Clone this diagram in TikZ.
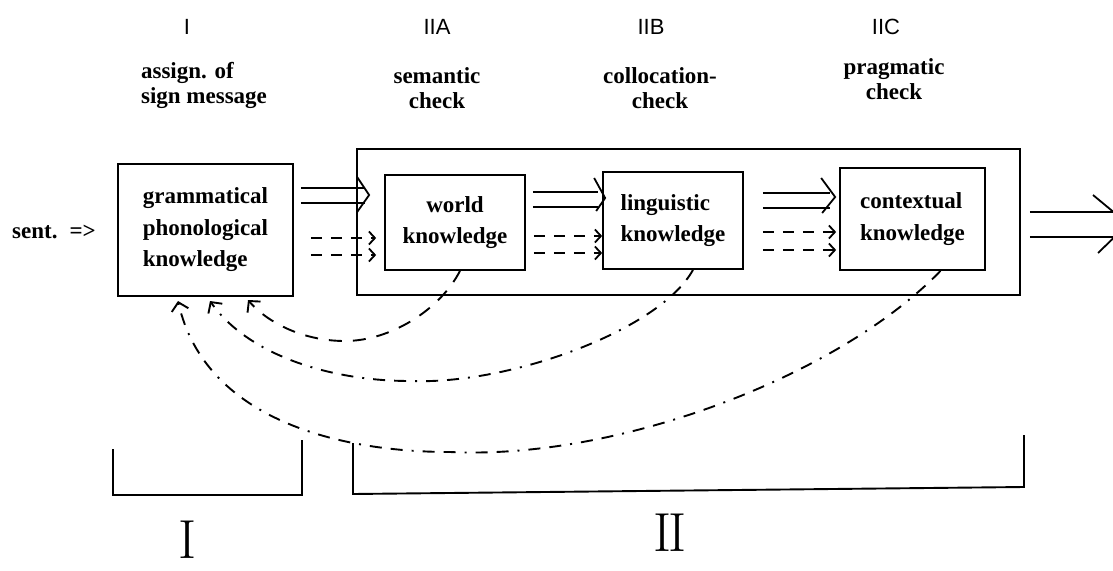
\documentclass[tikz,border=0pt]{standalone}
\usepackage{fontspec}
\newfontfamily\tms{Liberation Serif}
\newfontfamily\hlv{Liberation Sans}
\usetikzlibrary{arrows.meta,calc}

\tikzset{
  kbox/.style={draw, line width=1.7pt, inner sep=0pt, font=\tms\bfseries\fontsize{23}{31.5}\selectfont},
  frame/.style={draw, line width=1.7pt, inner sep=0pt},
  head/.style={font=\hlv\fontsize{22}{25}\selectfont, inner sep=0pt},
  task/.style={font=\tms\bfseries\fontsize{23}{25}\selectfont, inner sep=0pt},
  roman/.style={font=\fontsize{55}{58}\selectfont, inner sep=0pt},
  flow/.style={line width=1.8pt},
  chev/.style={line width=1.8pt, line join=miter},
  dflow/.style={line width=1.8pt, dash pattern=on 11pt off 9pt,
                -{Straight Barb[length=6pt,width=13pt]}},
  fbA/.style={line width=1.9pt, dash pattern=on 13pt off 11pt,
              -{Straight Barb[length=8pt,width=17pt]}},
  fbB/.style={line width=1.9pt, dash pattern=on 12pt off 9pt on 12pt off 9pt on 2pt off 9pt,
              -{Straight Barb[length=8pt,width=17pt]}},
  bracket/.style={line width=1.9pt},
}

\begin{document}
\begin{tikzpicture}[x=1pt,y=-1pt]
\useasboundingbox (0,0) rectangle (1113,570);
\clip (0,0) rectangle (1113,570);

% column headings
\node[head] (hI)   at (187,27) {I};
\node[head] (hIIA) at (437,27) {IIA};
\node[head] (hIIB) at (651,27) {IIB};
\node[head] (hIIC) at (886,27) {IIC};

\node[task, align=left]   (tI)   at (204,85) {assign. of\\sign message};
\node[task, align=center] (tIIA) at (437,88) {semantic\\check};
\node[task, align=center] (tIIB) at (660,88) {collocation-\\check};
\node[task, align=center] (tIIC) at (894,79) {pragmatic\\check};

% input
\node[task] (sent) at (54,232) {sent.\hspace{12pt}=>};

% stage II frame
\node[frame, minimum width=663pt, minimum height=146pt] (stage2) at (688.5,222) {};

% knowledge boxes
\node[kbox, align=left, minimum width=175pt, minimum height=132pt] (gram) at (205.5,230)
  {grammatical\\phonological\\knowledge};
\node[kbox, align=center, minimum width=140pt, minimum height=95pt] (world) at (455,222.5)
  {world\\knowledge};
\node[kbox, align=left, minimum width=140pt, minimum height=97pt] (ling) at (673,220.5)
  {linguistic\\knowledge};
\node[kbox, align=left, minimum width=145pt, minimum height=102pt] (ctx) at (912.5,219)
  {contextual\\knowledge};

% gram -> world
\draw[flow] ([xshift=7pt]gram.east |- 0,188) -- ([xshift=-19pt]world.west |- 0,188);
\draw[flow] ([xshift=7pt]gram.east |- 0,203) -- ([xshift=-19pt]world.west |- 0,203);
\draw[chev] ([xshift=-27pt]world.west |- 0,177) -- ([xshift=-15pt]world.west |- 0,195)
            -- ([xshift=-27pt]world.west |- 0,212);
\draw[dflow] ([xshift=17pt]gram.east |- 0,238) -- ([xshift=-8pt]world.west |- 0,238);
\draw[dflow] ([xshift=17pt]gram.east |- 0,255) -- ([xshift=-8pt]world.west |- 0,255);

% world -> ling
\draw[flow] ([xshift=7pt]world.east |- 0,192) -- ([xshift=-4pt]ling.west |- 0,192);
\draw[flow] ([xshift=7pt]world.east |- 0,207) -- ([xshift=-4pt]ling.west |- 0,207);
\draw[chev] ([xshift=-8pt]ling.west |- 0,178) -- ([xshift=3pt]ling.west |- 0,198)
            -- ([xshift=-6pt]ling.west |- 0,211);
\draw[dflow] ([xshift=8pt]world.east |- 0,236) -- ([xshift=0pt]ling.west |- 0,236);
\draw[dflow] ([xshift=8pt]world.east |- 0,253) -- ([xshift=0pt]ling.west |- 0,253);

% ling -> ctx
\draw[flow] ([xshift=19pt]ling.east |- 0,193) -- ([xshift=-9pt]ctx.west |- 0,193);
\draw[flow] ([xshift=19pt]ling.east |- 0,208) -- ([xshift=-9pt]ctx.west |- 0,208);
\draw[chev] ([xshift=-18pt]ctx.west |- 0,178) -- ([xshift=-4pt]ctx.west |- 0,197)
            -- ([xshift=-17pt]ctx.west |- 0,213);
\draw[dflow] ([xshift=19pt]ling.east |- 0,232) -- ([xshift=-3pt]ctx.west |- 0,232);
\draw[dflow] ([xshift=19pt]ling.east |- 0,250) -- ([xshift=-3pt]ctx.west |- 0,250);

% output
\coordinate (out1) at (1125,212);
\coordinate (out2) at (1125,237);
\draw[flow] ([xshift=9pt]stage2.east |- out1) -- (out1);
\draw[flow] ([xshift=9pt]stage2.east |- out2) -- (out2);
\draw[chev] (1093,195) -- (1128,224) -- (1098,253);

% feedback to the first stage
\coordinate (inA) at (248,300);
\coordinate (inB) at (210,301);
\coordinate (inC) at (178,301);
\draw[fbA] ([xshift=5pt]world.south) .. controls (440,310) and (390,341) .. (345,341)
           .. controls (300,341) and (265,320) .. (inA);
\draw[fbB] ([xshift=20pt]ling.south) .. controls (660,330) and (510,385) .. (410,381)
           .. controls (330,381) and (248,355) .. (inB);
\draw[fbB] ([xshift=28pt]ctx.south) .. controls (840,375) and (620,460) .. (450,452)
           .. controls (340,452) and (205,420) .. (inC);

% stage brackets
\draw[bracket] (113,449) -- (113,495) -- (302,495) -- (302,440);
\draw[bracket] (353,443) -- (353,494) -- (1024,487) -- (1024,435);
\node[roman] (rI)  at (188,540) {I};
\node[roman] (rII) at (670,533) {I\kern-0.06em I};
\end{tikzpicture}
\end{document}
